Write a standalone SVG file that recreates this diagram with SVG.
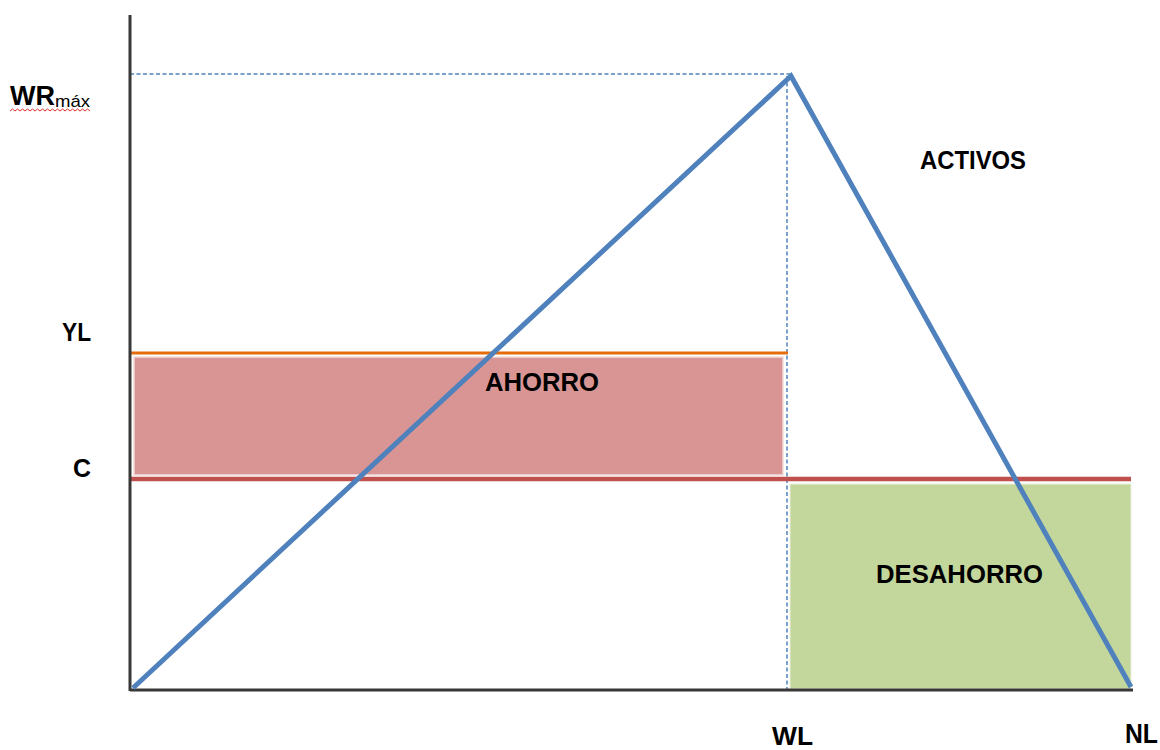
<svg xmlns="http://www.w3.org/2000/svg" width="1160" height="750" viewBox="0 0 1160 750">
<style>
.lbl{font-family:"Liberation Sans",Arial,sans-serif;font-weight:bold;fill:#000;}
.dash{stroke:#4F81BD;stroke-width:1.5;stroke-dasharray:4 2.5;fill:none;}
.axis{stroke:#383838;stroke-width:3;fill:none;}
</style>
<rect width="1160" height="750" fill="#fff"/>
<g id="regions">
<g id="ahorro">
<rect x="134" y="357" width="649" height="118" fill="#D99594" stroke="#F2DCDB" stroke-width="1.5"/>
<text class="lbl" x="485" y="391" font-size="25" textLength="114" lengthAdjust="spacingAndGlyphs">AHORRO</text>
</g>
<g id="desahorro">
<rect x="790" y="484" width="341" height="205" fill="#C3D69B" stroke="#EBF1DE" stroke-width="1"/>
<text class="lbl" x="876" y="583" font-size="25" textLength="167" lengthAdjust="spacingAndGlyphs">DESAHORRO</text>
</g>
</g>
<g id="connectors">
<line class="dash" x1="130" y1="74" x2="790" y2="74"/>
<line class="dash" x1="787" y1="76" x2="787" y2="690"/>
<line x1="130" y1="353" x2="788" y2="353" stroke="#E46C0A" stroke-width="3"/>
<line x1="130" y1="479" x2="1131" y2="479" stroke="#C0504D" stroke-width="4.5"/>
<line class="axis" x1="130" y1="15" x2="130" y2="691"/>
<line class="axis" x1="130" y1="690" x2="1133" y2="690"/>
<polyline id="activos-line" points="133,688 791,76 1131,687" fill="none" stroke="#4F81BD" stroke-width="5" stroke-linejoin="miter"/>
</g>
<g id="labels">
<g id="wrmax">
<text class="lbl" x="10" y="105" font-size="27" textLength="45" lengthAdjust="spacingAndGlyphs">WR</text>
<text x="55" y="107" font-size="17" font-family="'Liberation Sans',Arial,sans-serif" fill="#000" textLength="35" lengthAdjust="spacingAndGlyphs">máx</text>
<path d="M10,111 l2.5,-2 2.5,2 2.5,-2 2.5,2 2.5,-2 2.5,2 2.5,-2 2.5,2 2.5,-2 2.5,2 2.5,-2 2.5,2 2.5,-2 2.5,2 2.5,-2 2.5,2 2.5,-2 2.5,2 2.5,-2 2.5,2 2.5,-2 2.5,2 2.5,-2 2.5,2 2.5,-2 2.5,2 2.5,-2 2.5,2 2.5,-2 2.5,2 2.5,-2 2.5,2" fill="none" stroke="#E03030" stroke-width="1"/>
</g>
<text id="yl" class="lbl" x="62" y="341" font-size="26" textLength="29" lengthAdjust="spacingAndGlyphs">YL</text>
<text id="c" class="lbl" x="73" y="477" font-size="26" textLength="18" lengthAdjust="spacingAndGlyphs">C</text>
<text id="wl" class="lbl" x="772" y="745" font-size="25" textLength="41" lengthAdjust="spacingAndGlyphs">WL</text>
<text id="nl" class="lbl" x="1125" y="743" font-size="27" textLength="33" lengthAdjust="spacingAndGlyphs">NL</text>
<text id="activos" class="lbl" x="920" y="169" font-size="25" textLength="106" lengthAdjust="spacingAndGlyphs">ACTIVOS</text>
</g>
</svg>
